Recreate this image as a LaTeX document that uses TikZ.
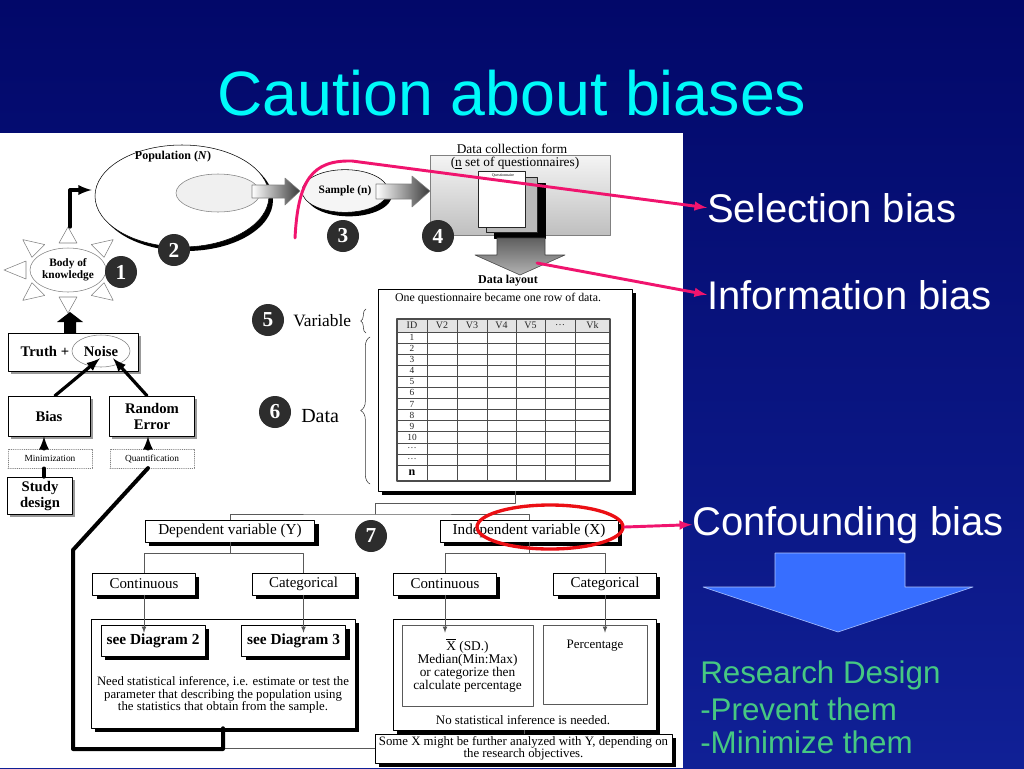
\documentclass[tikz,border=0pt]{standalone}
\usepackage{fontspec}
\setmainfont{Liberation Serif}
\newfontfamily\slidefont{Liberation Sans}
\usetikzlibrary{positioning, arrows, shapes, shadows, decorations.pathreplacing, calc}
\definecolor{slide_top}{RGB}{2,8,105}
\definecolor{slide_bottom}{RGB}{16,32,150}
\definecolor{title_cyan}{RGB}{0,250,250}
\definecolor{mark_pink}{RGB}{240,20,110}
\definecolor{mark_red}{RGB}{235,15,20}
\definecolor{design_green}{RGB}{70,200,130}
\definecolor{arrow_blue}{RGB}{55,110,255}
\definecolor{num_gray}{RGB}{45,45,45}
\tikzset{
	box/.style={draw, fill=white, inner sep=0pt, align=center},
	shbox/.style={box, drop shadow={shadow xshift=3pt, shadow yshift=-3pt, fill=black, opacity=1}},
	grbox/.style={box, drop shadow={shadow xshift=2pt, shadow yshift=-2pt, fill=gray, opacity=0.8}, font=\bfseries\fontsize{11}{12}\selectfont},
	dotbox/.style={box, draw=gray, densely dotted, minimum width=63pt, minimum height=14pt, font=\fontsize{7}{8}\selectfont},
	num/.style={circle, fill=num_gray, text=white, inner sep=0pt, minimum size=24pt, font=\fontsize{16}{16}\bfseries\selectfont},
	conn/.style={draw=gray!70!black, line width=0.6pt},
	fat/.style={line width=2.4pt, -latex},
	marker/.style={mark_pink, line width=2.2pt, -latex},
	slide/.style={text=white, font=\slidefont\fontsize{30}{36}\selectfont, anchor=base west, inner sep=0pt},
	design/.style={text=design_green, font=\slidefont\fontsize{23.5}{28}\selectfont, anchor=base west, inner sep=0pt},
	small/.style={font=\fontsize{9.7}{9.8}\selectfont, align=center}
}
\begin{document}
\begin{tikzpicture}[x=0.75pt, y=-0.75pt, line join=round, line cap=round]
		\shade[top color=slide_top, bottom color=slide_bottom] (0,0) rectangle (1024,768);
		\useasboundingbox (0,0) rectangle (1024,768);
		\node[text=title_cyan, font=\slidefont\fontsize{47}{50}\selectfont] (title) at (512,93) {Caution about biases};
		\fill[white] (0,133) rectangle (683,768);
		\begin{scope}
		\node[ellipse, draw, fill=white, minimum width=130.5pt, minimum height=76.5pt, drop shadow={shadow xshift=3pt, shadow yshift=-3pt, fill=black, opacity=1}] (pop) at (182,196) {};
		\node[font=\bfseries\fontsize{9}{10}\selectfont] at (173,157) {Population (\textit{N})};
		\node[ellipse, draw=gray, fill=gray!12, minimum width=63pt, minimum height=28.5pt] (popin) at (218,193) {};
		\node[ellipse, draw, fill=gray!8, minimum width=64.5pt, minimum height=32pt, inner sep=0pt, font=\bfseries\fontsize{8.5}{10}\selectfont, drop shadow={shadow xshift=3pt, shadow yshift=-3pt, fill=black, opacity=1}] (samp) at (345,191) {Sample (n)};
		\shadedraw[left color=white, right color=gray!45!black, draw=gray] (252,185) -- (285,185) -- (285,178) -- (300,191) -- (285,205) -- (285,198) -- (252,198) -- cycle;
		\shadedraw[left color=white, right color=gray!45!black, draw=gray] (376,184) -- (412,184) -- (412,176) -- (430,191) -- (412,207) -- (412,199) -- (376,199) -- cycle;
		\node[draw=gray, top color=gray!8, bottom color=gray!50, minimum width=135pt, minimum height=60pt, inner sep=0pt] (form) at (520,195) {};
		\node[font=\fontsize{10}{11}\selectfont] at (512,149) {Data collection form};
		\node[font=\fontsize{10}{11}\selectfont] at (515,163) {(\underline{n} set of questionnaires)};
		\filldraw[fill=black] (494,183) rectangle (545,238);
		\filldraw[fill=gray!55, draw=gray!30!black] (486,177) rectangle (537,232);
		\filldraw[fill=white, draw=gray!30!black] (478,171) rectangle (525,227);
		\node[font=\fontsize{3}{3}\selectfont] at (503,175) {Questionnaire};
		\shadedraw[top color=gray!75!black, bottom color=gray!60, draw=gray!50!black] (497,238) -- (545,238) -- (545,255) -- (565,255) -- (520,275) -- (475,255) -- (497,255) -- cycle;
		\node[font=\bfseries\fontsize{9}{10}\selectfont] at (508,281) {Data layout};
		\end{scope}
		\foreach\a in {0,45,...,315}
			\draw[gray, fill=white] ({68+42*cos(\a)+9*sin(\a)},{270-27*sin(\a)+9*cos(\a)}) -- ({68+64*cos(\a)},{270-43*sin(\a)}) -- ({68+42*cos(\a)-9*sin(\a)},{270-27*sin(\a)-9*cos(\a)}) -- cycle;
		\node[ellipse, draw=gray, fill=white, minimum width=57pt, minimum height=33pt, inner sep=0pt, align=center, font=\bfseries\fontsize{8.5}{9}\selectfont] (bok) at (68,270) {Body of\\knowledge};
		\coordinate (suntop) at (70,227);
		\draw[fat] (suntop) |- ($(pop.west)+(-3,-6)$);
		\fill (64,333) -- (64,322) -- (57,322) -- (70,312) -- (83,322) -- (76,322) -- (76,333) -- cycle;
		\node[grbox, minimum width=97.5pt, minimum height=28.5pt] (truth) at (73,352) {};
		\node[font=\bfseries\fontsize{11}{12}\selectfont, anchor=west] at (16,351) {Truth +};
		\node[ellipse, draw=gray, fill=white, minimum width=43.5pt, minimum height=24pt, inner sep=0pt, font=\bfseries\fontsize{11}{12}\selectfont] (noise) at (101,351) {Noise};
		\node[grbox, minimum width=61.5pt, minimum height=30pt] (bias) at (49,416) {Bias};
		\node[grbox, minimum width=64pt, minimum height=30pt] (rand) at (152,416) {Random\\Error};
		\node[dotbox] (mini) at (50,458.5) {Minimization};
		\node[dotbox] (quant) at (152,458.5) {Quantification};
		\node[grbox, minimum width=49pt, minimum height=28pt] (study) at (40,496) {Study\\design};
		\draw[fat] ([xshift=4.5pt]bias.north) -- ($(noise.south)+(-1,-9)$);
		\draw[fat] ([xshift=-3.75pt]rand.north) -- ($(noise.south)+(12,-9)$);
		\draw[fat] ([xshift=-4.5pt]mini.north) -- ([xshift=-4.5pt]mini.north |- bias.south);
		\draw[line width=2.4pt] ([xshift=-4.5pt]mini.south) -- ([xshift=-4.5pt]mini.south |- study.north);
		\draw[fat] ([xshift=-3pt]quant.north) -- ([xshift=-3pt]quant.north |- rand.south);
		\node[shbox, minimum width=190.5pt, minimum height=151.5pt] (layout) at (505,390) {};
		\node[font=\fontsize{8.9}{10}\selectfont] at (498,299) {One questionnaire became one row of data.};
		\fill[gray!22] (397,319) rectangle (610,332);
		\foreach\r in {0,...,12}
			\draw[gray!60!black, line width=0.4pt] (397,{332+\r*11.08}) -- (610,{332+\r*11.08});
		\foreach\c in {427,457,487,516,545,575}
			\draw[gray!60!black, line width=0.4pt] (\c,319) -- (\c,481);
		\draw[gray!60!black, line width=1pt] (397,319) rectangle (610,481);
		\foreach\lab/\c in {ID/412,V2/442,V3/472,V4/501.5,V5/530.5,\ldots/560,Vk/592.5}
			\node[font=\fontsize{7.5}{8}\selectfont, text=gray!30!black] at (\c,325.5) {\lab};
		\foreach\lab [count=\r] in {1,2,3,4,5,6,7,8,9,10,\ldots,\ldots}
			\node[font=\fontsize{7}{7}\selectfont, text=gray!30!black] at (412,{332+(\r-0.5)*11.08}) {\lab};
		\node[font=\bfseries\fontsize{9}{9}\selectfont] at (412,473) {n};
		\draw[gray!40!black, decorate, decoration={brace, amplitude=4pt}] (366,333) -- (366,309);
		\draw[gray!40!black, decorate, decoration={brace, amplitude=7pt}] (370,484) -- (370,337);
		\node[font=\fontsize{13}{14}\selectfont, anchor=west, inner sep=0pt] at (293,321) {Variable};
		\node[font=\fontsize{15}{16}\selectfont, anchor=west, inner sep=0pt] at (301,416) {Data};
		\node[shbox, minimum width=127pt, minimum height=16.5pt, font=\fontsize{11.4}{12}\selectfont] (dep) at (230,531) {Dependent variable (Y)};
		\node[shbox, minimum width=133.5pt, minimum height=16.5pt, font=\fontsize{11.4}{12}\selectfont] (ind) at (529,531) {Independent variable (X)};
		\coordinate (split) at (375,514);
		\draw[conn] ([xshift=7.5pt]layout.south) -- ++(0,12) -| (split);
		\draw[conn] (dep.north) |- (split) -| (ind.north);
		\foreach\nm/\x/\txt in {contY/144/Continuous, catY/303.5/Categorical, contX/445/Continuous, catX/605/Categorical}
			\node[shbox, minimum width=77pt, minimum height=16.5pt, font=\fontsize{11.2}{12}\selectfont] (\nm) at (\x,584) {\txt};
		\draw[conn] (dep.south) -- ++(0,11) coordinate (dsplit);
		\draw[conn] (contY.north) |- (dsplit) -| (catY.north);
		\draw[conn] (ind.south) -- ++(0,11) coordinate (isplit);
		\draw[conn] (contX.north) |- (isplit) -| (catX.north);
		\node[shbox, minimum width=198pt, minimum height=81.75pt] (stat) at (223,673.5) {};
		\node[shbox, minimum width=78pt, minimum height=23.25pt, font=\bfseries\fontsize{11.5}{12}\selectfont] (d2) at (153,640.5) {see Diagram 2};
		\node[shbox, minimum width=78pt, minimum height=23.25pt, font=\bfseries\fontsize{11.5}{12}\selectfont] (d3) at (293.5,640.5) {see Diagram 3};
		\node[font=\fontsize{9.6}{9.4}\selectfont, align=center] at (223,695) {Need statistical inference, i.e. estimate or test the\\parameter that describing the population using\\the statistics that obtain from the sample.};
		\draw[conn, -latex] (contY.south) -- ($(contY.south |- d2.north)+(0,8)$);
		\draw[conn, -latex] (catY.south) -- ($(catY.south |- d3.north)+(0,8)$);
		\node[shbox, minimum width=197.25pt, minimum height=83.25pt] (xstat) at (524.5,674.5) {};
		\node[box, draw=gray!70!black, minimum width=98.25pt, minimum height=60.75pt, font=\fontsize{10}{9.8}\selectfont] (xbar) at (467.5,665.5) {$\overline{\mbox{X}}$ (SD.)\\Median(Min:Max)\\or categorize then\\calculate percentage};
		\node[box, draw=gray!70!black, minimum width=78pt, minimum height=59.25pt] (pct) at (595,664.5) {};
		\node[small] at (595,646) {Percentage};
		\node[small] at (523,720) {No statistical inference is needed.};
		\draw[conn, -latex] (contX.south) -- ($(contX.south |- xbar.north)+(0,8)$);
		\draw[conn, -latex] (catX.south) -- ($(catX.south |- pct.north)+(0,8)$);
		\node[shbox, minimum width=222.75pt, minimum height=21.75pt, font=\fontsize{9.6}{9.2}\selectfont] (bottom) at (523.5,748.5) {Some X might be further analyzed with Y, depending on\\the research objectives.};
		\draw[conn] (xstat.south) -- (xstat.south |- bottom.north);
		\coordinate (loop) at (73,749);
		\coordinate (bend) at (73,550);
		\draw[conn] (bottom.west -| stat.south) -- (bottom.west);
		\draw[line width=3pt] (stat.south) |- (loop) -- (bend) -- ([xshift=-3pt]quant.south);
		\foreach\n/\x/\y in {1/121/272, 2/174/250, 3/343/236, 4/438/236, 5/268/320, 6/275/412, 7/371/536}
			\node[num] (n\n) at (\x,\y) {\n};
		\node[slide] (sel) at (707,222) {Selection bias};
		\node[slide] (info) at (707,309) {Information bias};
		\node[slide] (conf) at (692,535) {Confounding bias};
		\filldraw[fill=arrow_blue, draw=white!60!arrow_blue] (775,553) -- (905,553) -- (905,587) -- (973,587) -- (838,632) -- (703,587) -- (775,587) -- cycle;
		\node[design] (rd) at (700,683) {Research Design};
		\node[design] (prev) at (700,720) {-Prevent them};
		\node[design] (mini2) at (700,753) {-Minimize them};
		\coordinate (selstart) at (295,238);
		\coordinate (infostart) at (537,263);
		\draw[marker] (selstart) .. controls (298,180) and (312,160) .. (352,161) -- (sel.west);
		\draw[marker] (infostart) -- (info.west);
		\node[ellipse, draw=mark_red, line width=2.5pt, minimum width=109.5pt, minimum height=33pt] (ring) at (550,527) {};
		\draw[marker] (ring.east) -- (conf.west);
	\end{tikzpicture}
\end{document}
